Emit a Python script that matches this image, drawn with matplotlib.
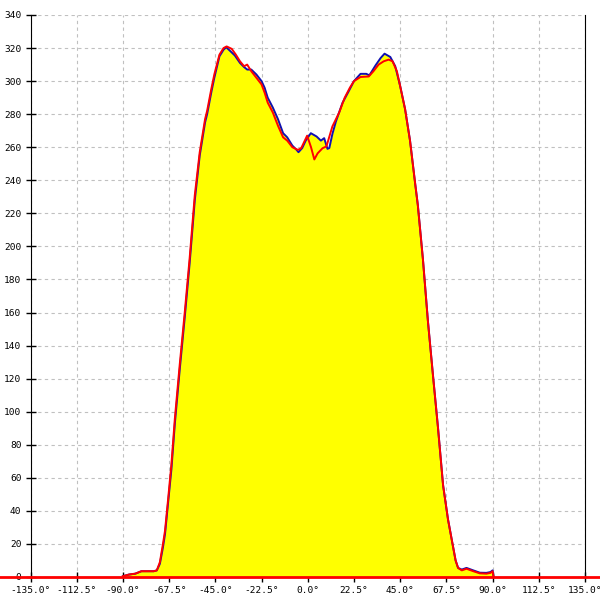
import numpy as np
import matplotlib.pyplot as plt
from matplotlib.lines import Line2D

# Curva azul (medição 1)
x_azul = [-90, -87, -84, -81, -78, -75, -73.5, -72, -70.5, -69.5, -68, -66.4, -64.7, -62.3,
          -59.9, -57.5, -55, -52.6, -50, -49, -47, -45.5, -43, -41, -39.7, -38, -35.5, -33,
          -31, -29.5, -27.5, -25, -22.5, -21, -19.5, -17, -14.5, -12, -10, -7.5, -5.5, -4.5,
          -2.7, -1, 1.5, 4.3, 6.4, 8, 9.6, 10.5, 12, 13.7, 16.9, 20, 22.5, 25.7, 28.5, 30,
          33, 35.5, 37.4, 40.2, 42.6, 45, 47.4, 49.8, 52.3, 53.6, 56.1, 58.5, 61, 63.4, 65.9,
          68.3, 70.8, 72, 73.2, 75, 77.3, 80.6, 83.8, 87, 89, 90, 90.5]
y_azul = [0.5, 1.5, 2, 3.5, 3.5, 3.5, 4, 8, 18, 26, 45, 65, 93, 126,
          157, 190, 228, 255, 275, 280, 293, 302, 315, 319, 320.5, 318.5, 315.5, 311,
          308.5, 307, 307, 304, 300, 296, 290, 284, 277, 268.5, 266, 261, 258.5, 257,
          259.5, 264, 268.5, 266.5, 264, 265.5, 259, 259.5, 268, 275.5, 286.8, 294, 300, 304.4, 304.4, 303.5,
          309.5, 314, 316.6, 314.6, 309, 297, 283, 264, 238, 225, 192, 155, 121.7, 90.6, 55.5,
          34.8, 18, 10, 5.5, 4.5, 5.5, 4, 2.6, 2.5, 3, 4, 0]

# Curva vermelha (medição 2)
x_verm = [-90, -87, -84, -81, -78, -75, -73.5, -72, -70.5, -69.5, -68, -66.4, -64.7, -62.3,
          -59.9, -57.5, -55, -52.6, -50, -49, -47, -45.5, -43, -41, -39.5, -37, -35, -33,
          -31, -29.5, -27.5, -25, -22.5, -21, -19.5, -17, -14.5, -12, -10, -7.5, -4.8, -3.2,
          -0.3, 1.6, 3.2, 4.8, 7.2, 9.1, 12, 15.3, 18, 20.5, 22.5, 25.7, 29.7, 32,
          34.5, 37, 39.4, 41.3, 43.4, 45, 47.4, 49.8, 52.3, 53.6, 56.1, 58.5, 61, 63.4, 65.9,
          68.3, 70.8, 72, 73.2, 75, 77.3, 80.6, 83.8, 87, 89, 90, 90.5]
y_verm = [0.5, 1.5, 2, 3.5, 3.5, 3.5, 4, 9, 20, 28, 47, 68, 96, 129,
          160, 193, 231, 257, 277, 282, 295, 304, 316, 320, 321, 319.5, 316, 312,
          309, 310, 306, 302, 298, 293, 287, 281, 273, 266, 264, 260, 258.4, 259.4,
          267, 260, 252.6, 256.3, 259.4, 260.5, 272.6, 281, 290, 296, 300, 302.5, 302.8, 306,
          310, 312, 313, 312, 306, 297, 283, 264, 238, 225, 192, 155, 121.7, 90.6, 55.5,
          34.8, 18, 10, 5.5, 4, 5, 3.5, 2.2, 2, 2.5, 3.5, 0]

ticks_x = [-135, -112.5, -90, -67.5, -45, -22.5, 0, 22.5, 45, 67.5, 90, 112.5, 135]
ticks_y = list(range(0, 341, 20))

fig = plt.figure(figsize=(6, 6), dpi=100)
ax = fig.add_axes([30.5 / 600, 23 / 600, 554.5 / 600, 562 / 600])

ax.fill_between(x_azul, y_azul, 0, color='#ffff00', linewidth=0, zorder=2)
ax.plot(x_azul, y_azul, color='#1010b0', linewidth=1.4, zorder=3)
ax.plot(x_verm, y_verm, color='#ff0000', linewidth=1.4, zorder=4)

ax.set_xlim(-135, 135)
ax.set_ylim(0, 340)
ax.set_xticks(ticks_x)
ax.set_xticklabels([f"{t:.1f}°" for t in ticks_x])
ax.set_yticks(ticks_y)
ax.set_yticklabels([str(t) for t in ticks_y])

ax.grid(True, color='#c0c0c0', linestyle=(0, (3, 3)), linewidth=0.8, zorder=1)
ax.set_axisbelow(True)

ax.spines['top'].set_visible(False)
ax.spines['left'].set_color('black')
ax.spines['right'].set_color('black')
ax.spines['bottom'].set_color('black')
ax.tick_params(axis='both', direction='inout', length=7, width=1, colors='black',
               labelsize=6.8, pad=3)
ax.tick_params(axis='y', right=False)
for lbl in ax.get_xticklabels() + ax.get_yticklabels():
    lbl.set_family('DejaVu Sans Mono')

# linha de base vermelha atravessando toda a largura
base = Line2D([-150, 145], [0, 0], color='#ff0000', linewidth=2, zorder=5, clip_on=False)
ax.add_line(base)

fig.savefig("out.png", dpi=100)
